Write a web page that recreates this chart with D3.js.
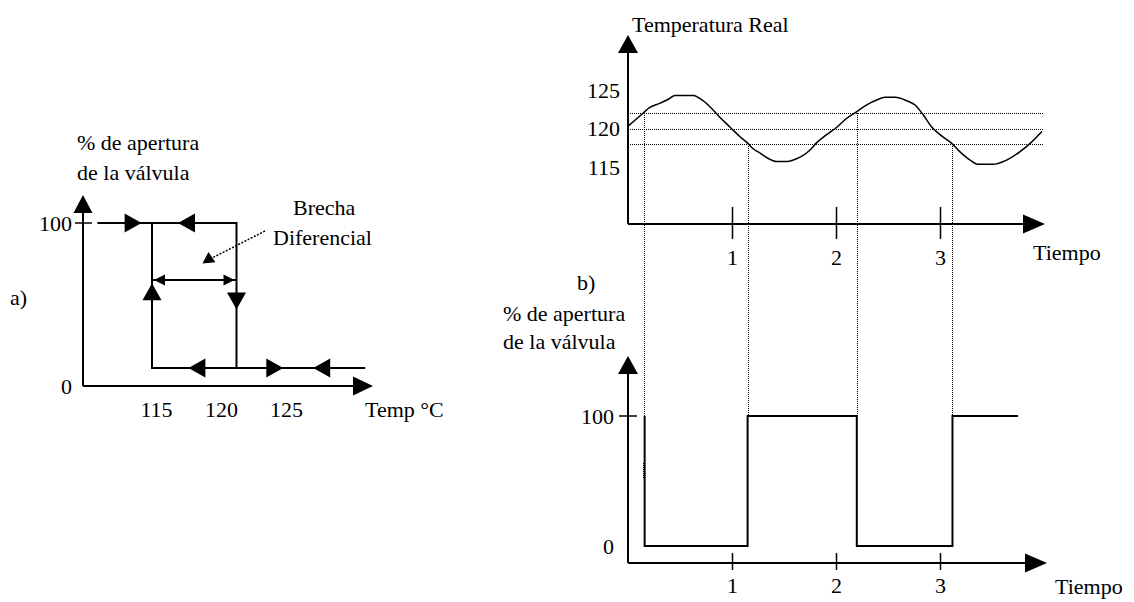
<!DOCTYPE html>
<html>
<head>
<meta charset="utf-8">
<script src="https://cdn.jsdelivr.net/npm/d3@7"></script>
<style>
  body { margin: 0; background: #fff; }
  text { font-family: "Liberation Serif", "Times New Roman", serif; font-size: 22px; fill: #000; }
  .dot { shape-rendering: crispEdges; }
</style>
</head>
<body>
<svg id="chart" width="1134" height="602"></svg>
<script>
// ---- a) hysteresis loop (temperature vs valve opening)
var loopLow = 11, loopHigh = 100;
var loopSwitch = [115, 121.5];            // left / right vertical
var loopStart = 110.8, loopEnd = 131.4;
var loopTicks = [115, 120, 125];
var loopPctTicks = [0, 100];
// arrow tips: temperature, percent, direction
var loopArrows = [
  {t: 114.2, p: 100, dir: "right"},
  {t: 117.0, p: 100, dir: "left"},
  {t: 115.0, p: 63, dir: "up"},
  {t: 121.5, p: 47, dir: "down"},
  {t: 117.8, p: 11, dir: "left"},
  {t: 125.1, p: 11, dir: "right"},
  {t: 127.4, p: 11, dir: "left"}
];
var gapLevel = 65;

// ---- b) temperature over time
var tempTime = [0.00, 0.15, 0.195, 0.31, 0.40, 0.45, 0.63, 0.69, 0.79, 0.88, 0.98, 1.08, 1.15, 1.20, 1.27, 1.35, 1.43, 1.53, 1.59, 1.75, 1.81, 1.91, 2.01, 2.10, 2.20, 2.30, 2.39, 2.47, 2.57, 2.68, 2.76, 2.84, 2.92, 3.00, 3.11, 3.19, 3.29, 3.37, 3.51, 3.64, 3.77, 3.87, 3.98];
var tempValue = [120.3, 122.05, 122.6, 123.3, 123.9, 124.3, 124.3, 123.9, 122.8, 121.5, 120.2, 118.9, 118.1, 117.4, 116.8, 116.1, 115.7, 115.7, 115.9, 117.2, 118.1, 119.2, 120.2, 121.3, 122.2, 123.1, 123.7, 124.05, 124.05, 123.6, 123.05, 121.75, 120.2, 119.2, 118.1, 117.0, 115.9, 115.35, 115.35, 115.9, 117.0, 118.1, 119.6];
var tempTicks = [115, 120, 125];
var thresholds = [122, 120, 118];
var crossTime = [0.15, 1.15, 2.20, 3.12];
var crossTemp = [122, 118, 122, 118];
var timeTicks = [1, 2, 3];

// ---- b) valve opening over time
var valveStart = 100;
var valveTime = [0.16, 1.15, 2.20, 3.12, 3.75];
var valveState = [0, 100, 0, 100, 100];
var valveTicks = [0, 100];
var valveSmudge = [52, 65];   // short dotted smudge on the first drop

var svg = d3.select("#chart");
svg.append("rect").attr("width", 1134).attr("height", 602).attr("fill", "#fff");

function tri(g, x, y, dir, len, half) {
  var p;
  if (dir == "right") p = [[x, y], [x - len, y - half], [x - len, y + half]];
  if (dir == "left") p = [[x, y], [x + len, y - half], [x + len, y + half]];
  if (dir == "up") p = [[x, y], [x - half, y + len], [x + half, y + len]];
  if (dir == "down") p = [[x, y], [x - half, y - len], [x + half, y - len]];
  g.append("path").attr("d", "M" + p.join("L") + "Z").attr("fill", "#000");
}

function styleAxis(ax) {
  ax.attr("font-family", null).attr("font-size", null);
  ax.select(".domain").remove();
}

// ================= chart a)
var gA = svg.append("g");
var xL = d3.scaleLinear().domain([115, 120]).range([152, 217]);
var yL = d3.scaleLinear().domain([0, 100]).range([386, 223]);
var aX0 = 83, aY0 = 386;

gA.append("line").attr("x1", aX0).attr("x2", aX0).attr("y1", aY0).attr("y2", 210).attr("stroke", "#000").attr("stroke-width", 2);
gA.append("line").attr("x1", aX0).attr("x2", 356).attr("y1", aY0).attr("y2", aY0).attr("stroke", "#000").attr("stroke-width", 2);
tri(gA, aX0, 195, "up", 18, 9.5);
tri(gA, 373, aY0, "right", 20, 9.5);
gA.append("line").attr("x1", aX0 - 8).attr("x2", aX0 + 9).attr("y1", yL(100)).attr("y2", yL(100)).attr("stroke", "#000").attr("stroke-width", 1.5);

gA.append("g").attr("transform", "translate(" + aX0 + ",0)")
  .call(d3.axisLeft(yL).tickValues(loopPctTicks).tickSize(0).tickPadding(11).tickFormat(d3.format("d")))
  .call(styleAxis);
gA.append("g").attr("transform", "translate(4," + aY0 + ")")
  .call(d3.axisBottom(xL).tickValues(loopTicks).tickSize(0).tickPadding(15).tickFormat(d3.format("d")))
  .call(styleAxis);

var lineL = d3.line().x(function(d) { return xL(d[0]); }).y(function(d) { return yL(d[1]); });
var loopPaths = [
  [[loopStart, loopHigh], [loopSwitch[1], loopHigh], [loopSwitch[1], loopLow]],
  [[loopSwitch[0], loopHigh], [loopSwitch[0], loopLow], [loopEnd, loopLow]]
];
gA.selectAll(".loop").data(loopPaths).join("path").attr("class", "loop")
  .attr("d", lineL).attr("fill", "none").attr("stroke", "#000").attr("stroke-width", 2);

loopArrows.forEach(function(a) { tri(gA, xL(a.t), yL(a.p), a.dir, 17, 9.5); });

// differential gap double arrow
gA.append("line").attr("x1", xL(loopSwitch[0])).attr("x2", xL(loopSwitch[1]))
  .attr("y1", yL(gapLevel)).attr("y2", yL(gapLevel)).attr("stroke", "#000").attr("stroke-width", 2);
tri(gA, xL(loopSwitch[0]) + 2, yL(gapLevel), "left", 11, 5.5);
tri(gA, xL(loopSwitch[1]) - 2, yL(gapLevel), "right", 11, 5.5);

// pointer to the gap
gA.append("line").attr("x1", 265).attr("y1", 231).attr("x2", 212).attr("y2", 258)
  .attr("stroke", "#000").attr("stroke-width", 1.5).attr("stroke-dasharray", "2,1.5");
gA.append("path").attr("d", "M202,263L209,252L215,263Z").attr("fill", "#000")
  .attr("transform", "rotate(-5,208,258)");

gA.append("text").attr("x", 77).attr("y", 150).text("% de apertura");
gA.append("text").attr("x", 77).attr("y", 180).text("de la válvula");
gA.append("text").attr("x", 10).attr("y", 305).text("a)");
gA.append("text").attr("x", 293).attr("y", 215).text("Brecha");
gA.append("text").attr("x", 273).attr("y", 245).text("Diferencial");
gA.append("text").attr("x", 365).attr("y", 417).text("Temp °C");

// ================= chart b) top: temperature
var gB = svg.append("g");
var xT = d3.scaleLinear().domain([0, 4]).range([628, 1044]);
var yT = d3.scaleLinear().domain([115, 125]).range([167, 90]);
var yV = d3.scaleLinear().domain([0, 100]).range([546, 416]);
var tAxisY = 224, vAxisY = 563;

// dotted guides
gB.selectAll(".thr").data(thresholds).join("line").attr("class", "thr dot")
  .attr("x1", xT(0)).attr("x2", xT(3.99))
  .attr("y1", function(d) { return Math.round(yT(d)) + 0.5; }).attr("y2", function(d) { return Math.round(yT(d)) + 0.5; })
  .attr("stroke", "#000").attr("stroke-width", 1).attr("stroke-dasharray", "1,1");
gB.selectAll(".cross").data(crossTime).join("line").attr("class", "cross dot")
  .attr("x1", function(d) { return Math.round(xT(d)) + 0.5; }).attr("x2", function(d) { return Math.round(xT(d)) + 0.5; })
  .attr("y1", function(d, i) { return yT(crossTemp[i]); }).attr("y2", yV(100))
  .attr("stroke", "#000").attr("stroke-width", 1).attr("stroke-dasharray", "1,1");

// axes
gB.append("line").attr("x1", xT(0)).attr("x2", xT(0)).attr("y1", tAxisY).attr("y2", 50).attr("stroke", "#000").attr("stroke-width", 2);
gB.append("line").attr("x1", xT(0)).attr("x2", 1026).attr("y1", tAxisY).attr("y2", tAxisY).attr("stroke", "#000").attr("stroke-width", 2);
tri(gB, xT(0), 35, "up", 18, 10);
tri(gB, 1045, tAxisY, "right", 22, 9.5);

gB.append("g").attr("transform", "translate(" + xT(0) + ",0)")
  .call(d3.axisLeft(yT).tickValues(tempTicks).tickSize(0).tickPadding(8))
  .call(styleAxis);
var tAx = gB.append("g").attr("transform", "translate(0," + tAxisY + ")")
  .call(d3.axisBottom(xT).tickValues(timeTicks).tickSizeInner(15).tickSizeOuter(0).tickPadding(10).tickFormat(d3.format("d")))
  .call(styleAxis);
tAx.selectAll(".tick line").attr("y1", -17).attr("stroke-width", 1.5);

var lineT = d3.line().x(function(d, i) { return xT(d); }).y(function(d, i) { return yT(tempValue[i]); })
  .curve(d3.curveMonotoneX);
gB.append("path").datum(tempTime).attr("d", lineT).attr("fill", "none").attr("stroke", "#000").attr("stroke-width", 1.5);

gB.append("text").attr("x", 632).attr("y", 32).text("Temperatura Real");
gB.append("text").attr("x", 1033).attr("y", 260).text("Tiempo");

// ================= chart b) bottom: valve
gB.append("line").attr("x1", xT(0)).attr("x2", xT(0)).attr("y1", vAxisY).attr("y2", 370).attr("stroke", "#000").attr("stroke-width", 2);
gB.append("line").attr("x1", xT(0)).attr("x2", 1028).attr("y1", vAxisY).attr("y2", vAxisY).attr("stroke", "#000").attr("stroke-width", 2);
tri(gB, xT(0), 356, "up", 18, 10);
tri(gB, 1047, vAxisY, "right", 22, 9.5);
gB.append("line").attr("x1", xT(0) - 9).attr("x2", xT(0) + 9).attr("y1", yV(100)).attr("y2", yV(100)).attr("stroke", "#000").attr("stroke-width", 1.5);

gB.append("g").attr("transform", "translate(" + xT(0) + ",0)")
  .call(d3.axisLeft(yV).tickValues(valveTicks).tickSize(0).tickPadding(14))
  .call(styleAxis);
var vAx = gB.append("g").attr("transform", "translate(0," + vAxisY + ")")
  .call(d3.axisBottom(xT).tickValues(timeTicks).tickSizeInner(7).tickSizeOuter(0).tickPadding(7).tickFormat(d3.format("d")))
  .call(styleAxis);
vAx.selectAll(".tick line").attr("y1", -10).attr("stroke-width", 1.5);

var valvePts = [{t: valveTime[0], v: valveStart}].concat(valveTime.map(function(t, i) { return {t: t, v: valveState[i]}; }));
var lineV = d3.line().x(function(d) { return xT(d.t); }).y(function(d) { return yV(d.v); }).curve(d3.curveStepAfter);
gB.append("path").datum(valvePts).attr("d", lineV).attr("fill", "none").attr("stroke", "#000").attr("stroke-width", 2);
gB.append("line").attr("class", "dot")
  .attr("x1", Math.round(xT(valveTime[0])) - 1.5).attr("x2", Math.round(xT(valveTime[0])) - 1.5)
  .attr("y1", yV(valveSmudge[0])).attr("y2", yV(valveSmudge[1]))
  .attr("stroke", "#000").attr("stroke-width", 1).attr("stroke-dasharray", "1,1");

gB.append("text").attr("x", 577).attr("y", 290).text("b)");
gB.append("text").attr("x", 503).attr("y", 321).text("% de apertura");
gB.append("text").attr("x", 503).attr("y", 349).text("de la válvula");
gB.append("text").attr("x", 1055).attr("y", 594).text("Tiempo");
</script>
</body>
</html>
